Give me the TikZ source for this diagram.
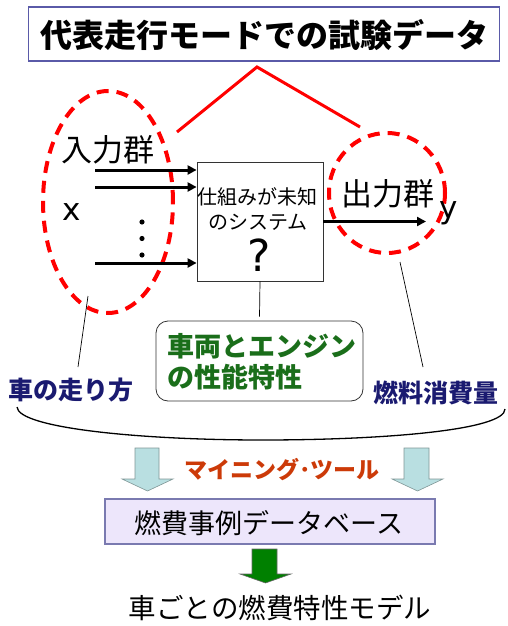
\documentclass[tikz,border=0pt]{standalone}
\usepackage{fontspec}
\setmainfont{Noto Sans CJK JP}
\newfontfamily\lat{DejaVu Sans}
\usetikzlibrary{arrows.meta,shapes.geometric}
\definecolor{titleborder}{HTML}{5A5AA8}
\definecolor{navytext}{HTML}{1A1A70}
\definecolor{greentext}{HTML}{1A6E1A}
\definecolor{minetext}{HTML}{CC3A08}
\definecolor{dbfill}{HTML}{EDE6FB}
\definecolor{dbborder}{HTML}{7A7AB0}
\definecolor{blockblue}{HTML}{B9DFE1}
\definecolor{blockedge}{HTML}{7F9696}
\definecolor{blockgreen}{HTML}{008000}
\tikzset{
  fs/.style={font=\fontsize{#1}{#1}\selectfont},
  titlebox/.style={draw=titleborder, line width=1.2pt, fill=white, inner sep=0pt},
  redell/.style={draw=red, ellipse, line width=4pt, dash pattern=on 12pt off 8pt, inner sep=0pt},
  inarrow/.style={line width=3pt, -{Triangle[length=9pt,width=9pt]}},
  sysbox/.style={draw=black!80, line width=0.8pt, inner sep=0pt},
  charbox/.style={draw=black!80, line width=0.8pt, rounded corners=12pt, inner sep=0pt},
  thinline/.style={draw=black, line width=0.7pt},
  dbbox/.style={draw=dbborder, line width=1.2pt, fill=dbfill, inner sep=0pt},
  bluearrow/.style={draw=blockedge, line width=0.6pt, fill=blockblue},
  greenarrow/.style={draw=black!60, line width=0.6pt, fill=blockgreen}
}
\begin{document}
\begin{tikzpicture}[x=1pt,y=-1pt]
\useasboundingbox (0,0) rectangle (507,626);

% title
\node[titlebox, minimum width=471pt, minimum height=54pt] (title) at (264,34) {};
\node[font=\fontsize{32}{32}\selectfont\bfseries] (titletext) at (264,35) {代表走行モードでの試験データ};

% red connector
\coordinate (redL) at (177,132);
\coordinate (redTop) at (257,67);
\coordinate (redR) at (360,127);
\draw[red, line width=3pt, line join=miter] (redL) -- (redTop) -- (redR);

% ellipses
\node[redell, minimum width=130pt, minimum height=222pt] (inEll) at (108,202) {};
\node[redell, minimum width=116pt, minimum height=120pt] (outEll) at (387,193) {};

% labels
\node[fs=31] (inlbl) at (108,150) {入力群};
\node[fs=31] (outlbl) at (388,194) {出力群};
\node[font=\fontsize{31}{31}\selectfont\lat] (xlbl) at (72,212) {x};

% system box
\node[sysbox, minimum width=126pt, minimum height=119pt] (sys) at (260,221.5) {};
\node[fs=20] (sysl1) at (257,197) {仕組みが未知};
\node[fs=20] (sysl2) at (258,222) {のシステム};
\node[font=\fontsize{44}{44}\selectfont\lat] (sysq) at (259,255) {?};

% input arrows
\coordinate (a1) at (95,170);
\coordinate (a2) at (95,187);
\coordinate (a3) at (95,263);
\draw[inarrow] (a1) -- (a1 -| sys.west);
\draw[inarrow] (a2) -- (a2 -| sys.west);
\draw[inarrow] (a3) -- (a3 -| sys.west);
\fill (142,222) circle (2.6pt) (142,238.5) circle (2.6pt) (142,255) circle (2.6pt);

% output arrow
\coordinate (outEnd) at (426,221.5);
\draw[inarrow] (sys.east) -- (outEnd);
\node[font=\fontsize{31}{31}\selectfont\lat] (ylbl) at (449,213) {y};

% characteristics box
\node[charbox, minimum width=207pt, minimum height=80pt] (char) at (259.5,361) {};
\node[font=\fontsize{27}{31}\selectfont\bfseries, text=greentext, align=left] (chartext) at (262,362) {車両とエンジン\\の性能特性};
\draw[thinline] (sys.south) -- ([yshift=4pt]char.north);

% bottom labels
\node[font=\fontsize{25}{25}\selectfont\bfseries, text=navytext] (runlbl) at (71,390) {車の走り方};
\node[font=\fontsize{25}{25}\selectfont\bfseries, text=navytext] (fuellbl) at (436,393) {燃料消費量};
\coordinate (inTail) at (88,296);
\coordinate (runTop) at (78,367);
\draw[thinline] (inTail) -- (runTop);
\coordinate (outTail) at (400,262);
\coordinate (fuelTop) at (423,367);
\draw[thinline] (outTail) -- (fuelTop);

% brace curve
\coordinate (curveL) at (17,407);
\coordinate (curveM) at (262,440);
\coordinate (curveR) at (505,409);
\draw[black, line width=1.3pt] (curveL) .. controls (18,428) and (140,440) .. (curveM) .. controls (385,440) and (505,430) .. (curveR);

% blue block arrows
\draw[bluearrow] (135,448) -- (159,448) -- (159,479) -- (173,479) -- (147.5,491) -- (122,479) -- (135,479) -- cycle;
\draw[bluearrow] (404,448) -- (429,448) -- (429,479) -- (443,479) -- (417.5,491) -- (392,479) -- (404,479) -- cycle;
\node[font=\fontsize{23}{23}\selectfont\bfseries, text=minetext] (minelbl) at (282,470) {マイニング･ツール};

% database box
\node[dbbox, minimum width=330pt, minimum height=45pt] (db) at (270,521.5) {};
\node[fs=27] (dbtext) at (269,523) {燃費事例データベース};

% green arrow
\draw[greenarrow] (252,549) -- (277,549) -- (277,574) -- (291,574) -- (265.5,583) -- (240,574) -- (252,574) -- cycle;

% model
\node[fs=27.5] (model) at (280,608) {車ごとの燃費特性モデル};
\end{tikzpicture}
\end{document}
